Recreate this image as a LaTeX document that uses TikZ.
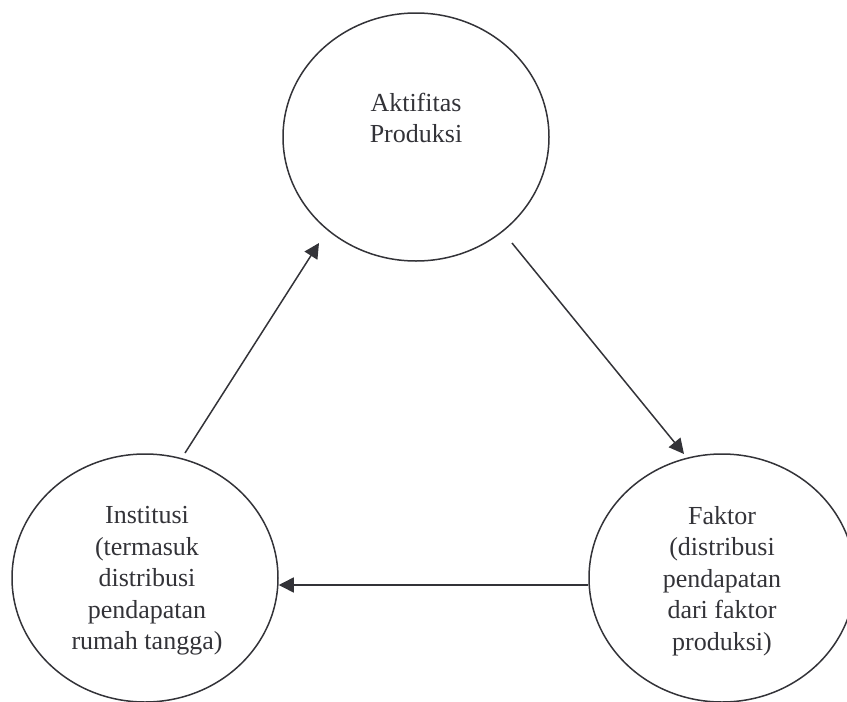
\documentclass[tikz,border=0pt]{standalone}
\usepackage{fontspec}
\setmainfont{Liberation Serif}
\usetikzlibrary{shapes.geometric,arrows.meta}
\definecolor{ink}{RGB}{51,51,56}
\begin{document}
\begin{tikzpicture}[x=1pt,y=-1pt,
  blob/.style={ellipse,draw=ink,line width=1.5pt,minimum width=266pt,minimum height=248pt,inner sep=0pt},
  lbl/.style={text=ink,align=center,font=\fontsize{26}{31.5}\selectfont},
  conn/.style={draw=ink,line width=1.5pt,-{Triangle[length=15pt,width=15pt]}}]
\useasboundingbox (0,0) rectangle (847,702);
\clip (0,0) rectangle (847,702);
\node[blob] (top) at (416,137) {};
\node[blob] (left) at (145,578) {};
\node[blob] (right) at (722,578) {};
\node[lbl] (ttop) at (416,118) {Aktifitas\\Produksi};
\node[lbl] (tleft) at (147,581) {Institusi\\(termasuk\\distribusi\\pendapatan\\rumah tangga)};
\node[lbl] (tright) at (722,581) {Faktor\\(distribusi\\pendapatan\\dari faktor\\produksi)};
\coordinate (a1s) at (185,453);
\coordinate (a1e) at (319,243);
\draw[conn] (a1s) -- (a1e);
\coordinate (a2s) at (512,243);
\coordinate (a2e) at (684,454);
\draw[conn] (a2s) -- (a2e);
\draw[conn] ([yshift=-7pt]right.west) -- ([yshift=-7pt]left.east);
\end{tikzpicture}
\end{document}
